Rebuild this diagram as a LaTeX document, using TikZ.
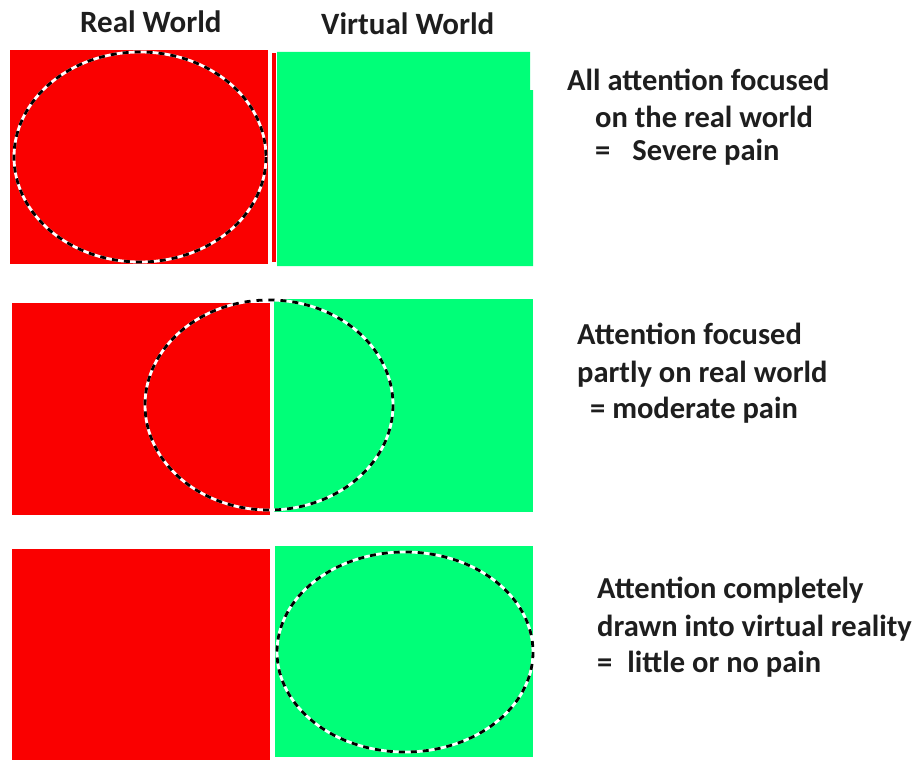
\documentclass[tikz,border=0pt]{standalone}
\usepackage{fontspec}
\setmainfont{Carlito}
\definecolor{realred}{RGB}{250,0,0}
\definecolor{virtgreen}{RGB}{0,255,120}
\definecolor{ink}{RGB}{30,30,30}
\begin{document}
\begin{tikzpicture}[x=1pt,y=-1pt,
	world/.style={ font=\bfseries\fontsize{31}{36}\selectfont, text=ink, inner sep=0pt, anchor=base west },
	caption/.style={ font=\bfseries\fontsize{30.5}{36}\selectfont, text=ink, inner sep=0pt, anchor=base west },
	focus/.style={ white, line width=2.8pt },
	focusdash/.style={ black, line width=2.8pt, dash pattern=on 6pt off 6pt }
]
\useasboundingbox (0,0) rectangle (923,760);

\node at (80,33) (real) [world] {Real World};
\node at (321,35) (virtual) [world] {Virtual World};

% all attention on the real world
\fill[realred] (10,50) rectangle (268,264);
\fill[realred] (272,53) rectangle (276,262);
\fill[virtgreen] (277,52) -- (530,52) -- (530,90) -- (533,90) -- (533,266) -- (277,266) -- cycle;
\foreach \s in {focus,focusdash} \draw[\s] (140,157) ellipse [x radius=126, y radius=105];

\node at (567,90) (severe1) [caption] {All attention focused};
\node at (595,127) (severe2) [caption] {on the real world};
\node at (595,160) (severe3) [caption] {=\hspace{22pt}Severe pain};

% attention split
\fill[realred] (12,303) rectangle (270,515);
\fill[virtgreen] (274,299) rectangle (533,512);
\foreach \s in {focus,focusdash} \draw[\s] (269,405) ellipse [x radius=124, y radius=105];

\node at (577,344) (moderate1) [caption] {Attention focused};
\node at (577,382) (moderate2) [caption] {partly on real world};
\node at (590,418) (moderate3) [caption] {= moderate pain};

% attention in the virtual world
\fill[realred] (12,549) rectangle (270,760);
\fill[virtgreen] (275,546) rectangle (533,757);
\foreach \s in {focus,focusdash} \draw[\s] (405,652) ellipse [x radius=128, y radius=100];

\node at (597,598) (little1) [caption] {Attention completely};
\node at (597,636) (little2) [caption] {drawn into virtual reality};
\node at (597,672) (little3) [caption] {=\hspace{15pt}little or no pain};

\end{tikzpicture}
\end{document}
